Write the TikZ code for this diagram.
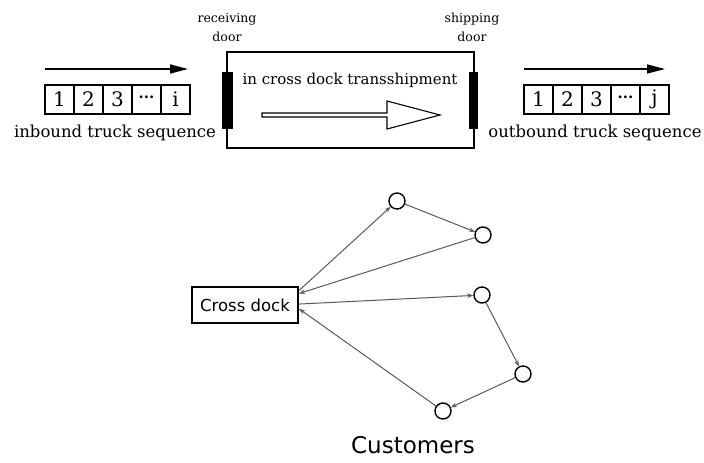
\documentclass[tikz,border=0pt]{standalone}
\usepackage{fontspec}
\setmainfont{DejaVu Serif}
\setsansfont{DejaVu Sans}
\usetikzlibrary{arrows.meta}
\begin{document}
\begin{tikzpicture}[x=1pt,y=-1pt,
  cell/.style={draw,line width=1.1pt,minimum width=29pt,minimum height=29pt,inner sep=0pt,font=\fontsize{20}{20}\selectfont},
  seqarrow/.style={line width=1.5pt,-{Triangle[length=18pt,width=9pt]}},
  door/.style={fill=black,draw=black,inner sep=0pt,minimum height=56pt},
  doorlabel/.style={align=center,font=\fontsize{12.5}{19}\selectfont,text=black},
  seqlabel/.style={font=\fontsize{16.5}{18}\selectfont,text=black},
  cust/.style={circle,draw,line width=1.4pt,minimum size=16pt,inner sep=0pt},
  route/.style={line width=1pt,draw=black!65,-{Stealth[length=6pt,width=4.5pt]}}
]
\useasboundingbox (0,0) rectangle (704,463);
% inbound
\coordinate (a1s) at (45,69);
\coordinate (a1e) at (188,69);
\draw[seqarrow] (a1s) -- (a1e);
\node[cell] (in1) at (59.5,99.5) {1};
\node[cell] (in2) at (88.5,99.5) {2};
\node[cell] (in3) at (117.5,99.5) {3};
\node[cell] (in4) at (146.5,99.5) {\raisebox{0.25em}{\fontsize{15}{15}\selectfont\textbf{...}}};
\node[cell] (in5) at (175.5,99.5) {i};
\node[seqlabel] (inl) at (115,133) {inbound truck sequence};
% dock
\node[draw,line width=1.1pt,minimum width=247pt,minimum height=96pt,inner sep=0pt] (dock) at (350.5,100) {};
\node[door,minimum width=10pt] (rd) at (227,100) {};
\node[door,minimum width=8pt] (sd) at (473,100) {};
\node[doorlabel] (rdl) at (227,27.5) {receiving\\door};
\node[doorlabel] (sdl) at (472,27.5) {shipping\\door};
\node[font=\fontsize{15}{16}\selectfont,text=black] (trans) at (350,80) {in cross dock transshipment};
\draw[line width=1.1pt,fill=white] (262,113) -- (387,113) -- (387,101) -- (440,115) -- (387,129) -- (387,117) -- (262,117) -- cycle;
% outbound
\coordinate (a2s) at (524,69);
\coordinate (a2e) at (665,69);
\draw[seqarrow] (a2s) -- (a2e);
\node[cell] (out1) at (538.5,99.5) {1};
\node[cell] (out2) at (567.5,99.5) {2};
\node[cell] (out3) at (596.5,99.5) {3};
\node[cell] (out4) at (625.5,99.5) {\raisebox{0.25em}{\fontsize{15}{15}\selectfont\textbf{...}}};
\node[cell] (out5) at (654.5,99.5) {j};
\node[seqlabel] (outl) at (595,133) {outbound truck sequence};
% routes
\node[draw,line width=2pt,minimum width=106pt,minimum height=36pt,inner sep=0pt,font=\sffamily\fontsize{16.5}{18}\selectfont] (cd) at (245,305) {Cross dock};
\node[cust] (c1) at (397,201) {};
\node[cust] (c2) at (483,235) {};
\node[cust] (c3) at (482,295) {};
\node[cust] (c4) at (523,374) {};
\node[cust] (c5) at (443,411) {};
\draw[route] (cd.15) -- (c1);
\draw[route] (c1) -- (c2);
\draw[route] (c2) -- (cd.12);
\draw[route] (cd.1) -- (c3);
\draw[route] (c3) -- (c4);
\draw[route] (c4) -- (c5);
\draw[route] (c5) -- (cd.-4);
\node[font=\sffamily\fontsize{23}{26}\selectfont,text=black] (custl) at (413,445) {Customers};
\end{tikzpicture}
\end{document}
